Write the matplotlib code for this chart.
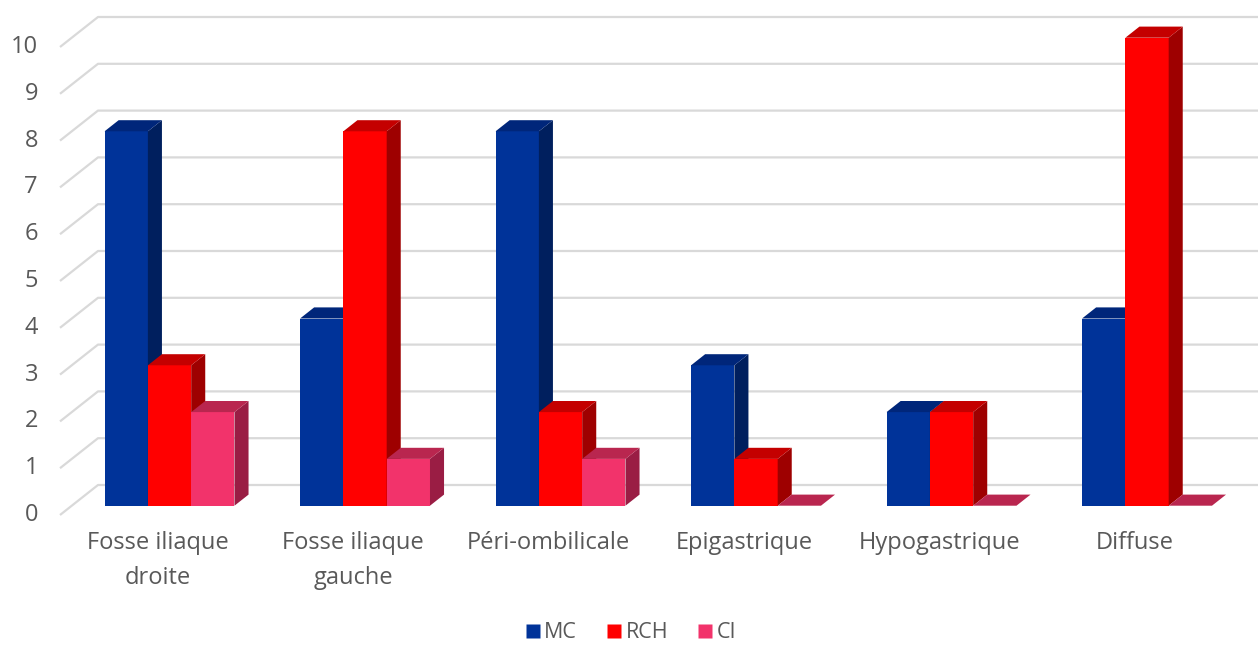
import matplotlib
matplotlib.use("Agg")
import matplotlib.pyplot as plt
from matplotlib.patches import Polygon
from matplotlib.lines import Line2D

# ---- data ----
categories = ["Fosse iliaque\ndroite", "Fosse iliaque\ngauche", "Péri-ombilicale",
              "Epigastrique", "Hypogastrique", "Diffuse"]
series_names = ["MC", "RCH", "CI"]
mc = [8, 4, 8, 3, 2, 4]
rch = [3, 8, 2, 1, 2, 10]
ci = [2, 1, 1, 0, 0, 0]
y_ticks = list(range(0, 11))

series_values = [mc, rch, ci]
# front / top / side shades of each series
face_colors = [
    ("#003399", "#00267A", "#001F5E"),
    ("#FF0000", "#C40000", "#9E0000"),
    ("#F2336B", "#B9264F", "#9A1D44"),
]

plt.rcParams["font.family"] = ["Open Sans", "DejaVu Sans"]
TEXT = "#595959"
GRID = "#D9D9D9"
FS = 17

W, H, DPI = 1258, 645, 100
fig = plt.figure(figsize=(W / DPI, H / DPI), dpi=DPI)
ax = fig.add_axes([0, 0, 1, 1])

# axis scaling: one category = 195.5 px, one value unit = 46.8 px
cat_px, val_px = 195.5, 46.8
x0_px, y0_px = 60, 515
ax.set_xlim(-x0_px / cat_px, (W - x0_px) / cat_px)
ax.set_ylim(-(H - y0_px) / val_px, y0_px / val_px)
ax.axis("off")

# oblique depth of the plot box (in data units)
depth_x = 38 / cat_px
depth_y = 30 / val_px
x_end = (W - x0_px) / cat_px + 1

# wall gridlines
for v in y_ticks:
    ax.plot([0, depth_x, x_end], [v, v + depth_y, v + depth_y],
            color=GRID, lw=1.6, zorder=1, solid_capstyle="butt")
    ax.text(-22 / cat_px, v, str(v), ha="right", va="center",
            fontsize=FS, color=TEXT)

# 3D-looking columns
n_series = len(series_values)
bar_w = 43.3 / cat_px
gap = 1 - n_series * bar_w
front_frac, bar_depth = 0.31, 0.37
ddx, ddy = bar_depth * depth_x, bar_depth * depth_y

for i in range(len(categories)):
    for j, vals in enumerate(series_values):
        v = vals[i]
        front, top, side = face_colors[j]
        xl = i + gap / 2 + j * bar_w + front_frac * depth_x
        xr = xl + bar_w
        yb = front_frac * depth_y
        yt = yb + v
        z = 3
        if v > 0:
            ax.add_patch(Polygon([(xl, yb), (xr, yb), (xr, yt), (xl, yt)],
                                 closed=True, fc=front, ec="none", zorder=z))
            ax.add_patch(Polygon([(xr, yb), (xr + ddx, yb + ddy),
                                  (xr + ddx, yt + ddy), (xr, yt)],
                                 closed=True, fc=side, ec="none", zorder=z))
        ax.add_patch(Polygon([(xl, yt), (xr, yt), (xr + ddx, yt + ddy),
                              (xl + ddx, yt + ddy)],
                             closed=True, fc=top, ec="none", zorder=z))

# category labels
for i, lab in enumerate(categories):
    ax.text(i + 0.5, -16 / val_px, lab, ha="center", va="top",
            fontsize=FS, color=TEXT, linespacing=1.6)

# legend
handles = [Line2D([0], [0], marker="s", ls="none", markersize=9.5,
                  markerfacecolor=face_colors[k][0], markeredgecolor="none")
           for k in range(n_series)]
fig.legend(handles, series_names, loc="center", bbox_to_anchor=(0.5, 1 - 633 / H),
           ncol=3, frameon=False, fontsize=15.5, labelcolor=TEXT,
           handletextpad=0.05, columnspacing=1.2, handlelength=1.0,
           borderpad=0.1)

fig.savefig("out.png", dpi=DPI)
